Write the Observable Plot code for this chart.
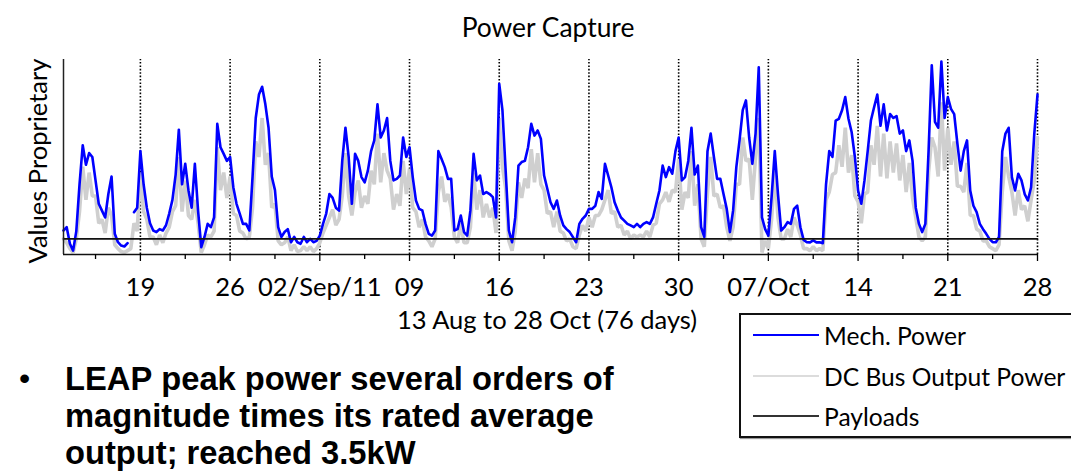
<!DOCTYPE html>
<html>
<head>
<meta charset="utf-8">
<script src="https://cdn.jsdelivr.net/npm/d3@7"></script>
<script src="https://cdn.jsdelivr.net/npm/@observablehq/plot@0.6"></script>
<style>
  html, body { margin: 0; padding: 0; background: #fff; }
  #wrap { position: relative; width: 1071px; height: 473px; overflow: hidden; background: #fff; }
  #chart { position: absolute; left: 0; top: 0; }
  .lbl { position: absolute; font-family: Lato, "Open Sans", sans-serif; color: #000; white-space: nowrap; }
  .ctr { transform: translate(-50%, -50%); }
  #legend { position: absolute; left: 739px; top: 313px; width: 400px; height: 125px; border: 2px solid #111; box-sizing: border-box; background: #fff; box-shadow: 1px 1px 1px #999; }
  .sw { position: absolute; left: 12px; width: 66px; }
  .lt { position: absolute; left: 83px; font-family: Lato, sans-serif; font-size: 24.6px; transform: translateY(-50%); white-space: nowrap; }
  #bullet { position: absolute; left: 65px; top: 360px; font-family: "Liberation Sans", Arial, sans-serif; font-weight: bold; font-size: 32.7px; line-height: 37px; color: #000; white-space: nowrap; }
  #dot { position: absolute; left: 19px; top: 360px; font-family: "Liberation Sans", Arial, sans-serif; font-size: 32px; line-height: 37px; }
</style>
</head>
<body>
<div id="wrap">
  <div id="chart"></div>
  <div class="lbl ctr" style="left:548px; top:27px; font-size:26.4px;">Power Capture</div>
  <div class="lbl" style="left:37px; top:161px; font-size:25.5px; transform: translate(-50%,-50%) rotate(-90deg);">Values Proprietary</div>
  <div class="lbl ctr" style="left:547px; top:319px; font-size:25.5px;">13 Aug to 28 Oct (76 days)</div>
  <div id="legend"></div>
  <div id="dot">•</div>
  <div id="bullet"></div>
</div>
<script>
// ---- data ----
const startDate = "2011-08-13";
const endDate = "2011-10-28";
const sampleHours = 6;

// Mech. Power, one value every 6 hours from 13 Aug (relative units)
const mechPower = [
12.3,14,5.5,2,
12,36,56,46,
52,50,38,26,
22.5,19,31,40,
10.6,6.3,4.6,4.1,
5.8,null,21.7,24,
53,36,24,16,
12.3,11.5,13,12.3,
15,21,28,41,
64,36,46.5,33,
24,46.5,22.5,3.8,
9,15.7,14,19,
67,55,51.6,48,
50,34.5,26,21,
15.7,15.7,12.3,39.7,
70,82,86,77,
65,40,33,14,
9,11.5,13,6.3,
9,6.3,5.5,9,
6.3,8,6.3,7,
9.7,15.7,21,31,
29,24,22.5,48,
65,50,26,51.6,
48,39.7,37,43,
53,58.5,77,60,
63.6,70,48,38,
38.8,40.5,60,50,
55,39.7,27.7,23.4,
22.6,15.7,10.6,9.7,
12.3,53,49,44.8,
38.8,38.8,12.3,13,
20,11.5,9.7,22.6,
51.6,38,40.5,31,
32,31,29.4,19,
87.5,74,43,12.3,
6.3,19,45.6,47.4,
48,55,67,61,
63.6,59.3,40.5,33.7,
26.8,23.4,27.7,20,
14.9,13,11.5,8.9,
6.3,15.7,18.3,20,
23.4,23.4,25,32,
28.5,46.5,40.5,34.5,
26.8,22.6,19,17.4,
15.7,14.9,14,15.7,
14,15.7,16.6,15.7,
19,26,32.8,45.6,
39.7,44.8,41.4,53,
60,38,39.7,48,
65,41,45.6,14,
9,53,62,50,
38.8,38.8,31,23.4,
11.5,22.6,44.8,58.5,
74,79,60,46.5,
62,96,19,13,
9.7,29.4,53,31,
12.3,14,16.6,15.7,
23.4,25,14,7.5,
6.3,6.2,7.2,6.2,
6.3,5.8,36,53,
50,68.7,69.6,74,
80.7,69.6,62.7,50,
32.8,26,38,53,
68.7,75.5,82,66,
77,63.6,72,70,
71,62,63.6,53,
58.5,48,24,15.7,
11.5,15.7,53,97,
68,65,99,70,
80.7,74.7,72,56.8,
43,53,58.5,32.8,
25,21.7,15.7,13,
10.6,8,6.3,6.3,
9,53,62,65,
39.7,32.8,41.4,38,
31,27.7,34.5,62,
82];

// DC Bus Output Power, same sampling
const dcBusPower = [
8,6,3,1,
8,22,45,28,
42,30,30,16,
18,11,24,20,
5,3,1.5,1,
2,3,16,12,
42,22,18,9,
9,5,10,6,
11,14,22,25,
50,22,38,20,
18,28,16,1,
5,10,9,12,
55,33,42,29,
40,21,20,12,
11,8,9,24,
58,50,70,46,
52,24,26,7,
5,6,9,2,
5,1.5,2,4,
2,4,1.5,3,
6,11,15,19,
23,15,18,30,
52,30,20,32,
38,24,30,26,
43,36,62,37,
52,43,39,23,
31,25,48,31,
44,24,22,14,
18,9,7,4,
8,32,40,27,
31,24,9,6,
16,6,6,14,
42,23,33,19,
26,19,24,11,
70,45,34,7,
2,12,37,29,
39,34,54,37,
52,36,33,21,
22,14,22,12,
11,7,8,4,
3,10,15,12,
19,14,20,20,
23,28,33,21,
22,14,15,10,
12,8,10,9,
10,9,12,9,
15,16,26,28,
32,27,33,32,
49,23,32,29,
53,25,36,8,
4,32,50,30,
31,24,25,14,
7,14,36,36,
60,48,49,28,
50,70,1,7,
3,18,43,19,
8,8,13,9,
19,15,10,3,
3,2,4,2,
3,2,28,32,
41,42,56,45,
65,42,51,30,
27,16,31,32,
56,46,66,40,
62,39,58,42,
57,38,51,32,
47,29,19,9,
7,9,42,60,
55,40,78,43,
65,46,58,35,
35,32,47,20,
20,13,12,7,
7,4,3,2,
5,32,50,40,
32,20,33,23,
25,17,28,38,
60];

const payloadDates = ["2011-08-13", "2011-10-28"];
const payloadValues = [8, 8];

const majorTickDates = ["2011-08-19","2011-08-26","2011-09-02","2011-09-09","2011-09-16","2011-09-23","2011-09-30","2011-10-07","2011-10-14","2011-10-21","2011-10-28"];
const majorTickLabels = ["19","26","02/Sep/11","09","16","23","30","07/Oct","14","21","28"];
const minorTickDates = ["2011-08-15T12:00Z","2011-08-22T12:00Z","2011-08-29T12:00Z","2011-09-05T12:00Z","2011-09-12T12:00Z","2011-09-19T12:00Z","2011-09-26T12:00Z","2011-10-03T12:00Z","2011-10-10T12:00Z","2011-10-17T12:00Z","2011-10-24T12:00Z"];

const seriesNames = ["Mech. Power", "DC Bus Output Power", "Payloads"];
const seriesColors = ["#0000ff", "#cfcfcf", "#111111"];

const bulletLines = ["<b>LEAP</b> peak power several orders of", "magnitude times its rated average", "output; reached 3.5kW"];

// ---- build ----
const t0 = new Date(startDate + "T00:00Z");
const t1 = new Date(endDate + "T00:00Z");
const timeAt = i => new Date(+t0 + i * sampleHours * 3600e3);
const mech = mechPower.map((v, i) => ({t: timeAt(i), v}));
const dc = dcBusPower.map((v, i) => ({t: timeAt(i), v}));
const pay = payloadDates.map((d, i) => ({t: new Date(d + "T00:00Z"), v: payloadValues[i]}));
const majors = majorTickDates.map(d => new Date(d + "T00:00Z"));
const minors = minorTickDates.map(d => new Date(d.replace("Z", ":00Z")));
const labelByTime = new Map(majors.map((d, i) => [+d, majorTickLabels[i]]));

const chart = Plot.plot({
  width: 1071,
  height: 340,
  marginLeft: 63,
  marginRight: 34,
  marginTop: 59,
  marginBottom: 86,
  x: {type: "utc", domain: [t0, t1], label: null},
  y: {domain: [0, 100], axis: null},
  style: {fontFamily: "Lato, sans-serif", fontSize: "25.5px", background: "transparent", overflow: "visible", color: "#000"},
  marks: [
    Plot.ruleX(majors, {x: d => d, y1: 0, y2: 100, stroke: "#000", strokeWidth: 1.6, strokeDasharray: "1.6,1.8"}),
    Plot.line(dc, {x: "t", y: "v", stroke: seriesColors[1], strokeWidth: 3.6, strokeLinejoin: "miter", defined: d => d.v != null}),
    Plot.line(mech, {x: "t", y: "v", stroke: seriesColors[0], strokeWidth: 2.6, defined: d => d.v != null}),
    Plot.line(pay, {x: "t", y: "v", stroke: seriesColors[2], strokeWidth: 1.6}),
    Plot.ruleX([t0], {y1: 0, y2: 100, stroke: "#222", strokeWidth: 1.5}),
    Plot.ruleY([0], {stroke: "#111", strokeWidth: 1.6}),
    Plot.axisX({ticks: minors, tickSize: 5, tickFormat: () => "", strokeWidth: 1.3, label: null}),
    Plot.axisX({ticks: majors, tickSize: 7, tickPadding: 16, tickFormat: d => labelByTime.get(+d), strokeWidth: 1.3, label: null, fontSize: 25.5})
  ]
});
document.getElementById("chart").appendChild(chart);

// legend
const lg = document.getElementById("legend");
const rowY = [20, 61, 101];
const swW = [1.5, 2.5, 1.6];
seriesNames.forEach((name, i) => {
  const s = document.createElement("div");
  s.className = "sw";
  s.style.top = (rowY[i] - swW[i] / 2) + "px";
  s.style.height = swW[i] + "px";
  s.style.background = i === 2 ? "#333" : (i === 1 ? "#dcdcdc" : seriesColors[i]);
  lg.appendChild(s);
  const t = document.createElement("div");
  t.className = "lt";
  t.style.top = rowY[i] + "px";
  t.textContent = name;
  lg.appendChild(t);
});

document.getElementById("bullet").innerHTML = bulletLines.join("<br>");
</script>
</body>
</html>
